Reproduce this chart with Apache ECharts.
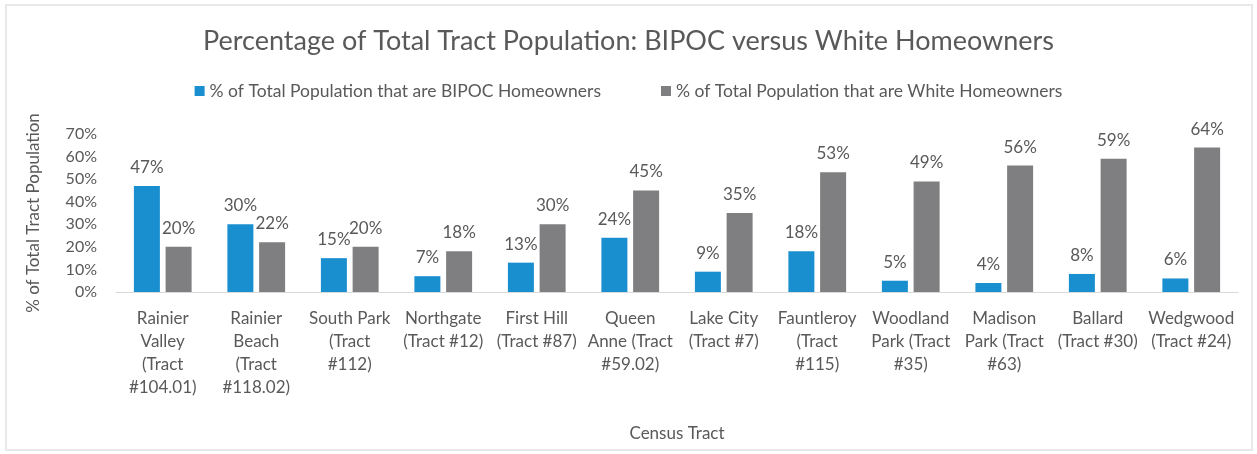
<!DOCTYPE html>
<html>
<head>
<meta charset="utf-8">
<script src="https://cdn.jsdelivr.net/npm/echarts@6/dist/echarts.min.js"></script>
<style>html,body{margin:0;padding:0;background:#fff;}#c{width:1257px;height:454px;}</style>
</head>
<body>
<div id="c"></div>
<script>
const categories = [
  "Rainier\nValley\n(Tract\n#104.01)",
  "Rainier\nBeach\n(Tract\n#118.02)",
  "South Park\n(Tract\n#112)",
  "Northgate\n(Tract #12)",
  "First Hill\n(Tract #87)",
  "Queen\nAnne (Tract\n#59.02)",
  "Lake City\n(Tract #7)",
  "Fauntleroy\n(Tract\n#115)",
  "Woodland\nPark (Tract\n#35)",
  "Madison\nPark (Tract\n#63)",
  "Ballard\n(Tract #30)",
  "Wedgwood\n(Tract #24)"
];
const bipoc = [47, 30, 15, 7, 13, 24, 9, 18, 5, 4, 8, 6];
const white = [20, 22, 20, 18, 30, 45, 35, 53, 49, 56, 59, 64];
const seriesNames = ["% of Total Population that are BIPOC Homeowners", "% of Total Population that are White Homeowners"];
const yTicks = [0, 10, 20, 30, 40, 50, 60, 70];

const FONT = "Lato";
const TXT = "#595959";
const chart = echarts.init(document.getElementById('c'), null, {renderer: 'canvas'});
const labelCfg = {show: true, position: 'top', distance: 10, color: TXT, fontFamily: FONT, fontSize: 17, formatter: p => p.value + '%'};
chart.setOption({
  animation: false,
  backgroundColor: '#fff',
  title: {
    text: "Percentage of Total Tract Population: BIPOC versus White Homeowners",
    left: 'center', top: 23,
    textStyle: {color: TXT, fontFamily: FONT, fontSize: 27, fontWeight: 'normal'}
  },
  legend: {
    top: 77, left: 'center', itemWidth: 10, itemHeight: 10, itemGap: 60,
    icon: 'rect',
    textStyle: {color: TXT, fontFamily: FONT, fontSize: 17.5},
    data: seriesNames
  },
  graphic: [{
    type: 'rect', shape: {x: 6, y: 5, width: 1246, height: 445},
    style: {fill: 'none', stroke: '#e8e8e8', lineWidth: 2}, silent: true, z: -1
  }],
  grid: {left: 116, right: 19, top: 134, bottom: 162, containLabel: false},
  xAxis: {
    type: 'category', data: categories,
    name: 'Census Tract', nameLocation: 'middle', nameGap: 133,
    nameTextStyle: {color: TXT, fontFamily: FONT, fontSize: 17},
    axisLine: {lineStyle: {color: '#d9d9d9', width: 1}},
    axisTick: {show: false},
    axisLabel: {interval: 0, color: TXT, fontFamily: FONT, fontSize: 17, lineHeight: 23, margin: 15, align: 'center'}
  },
  yAxis: {
    type: 'value', min: 0, max: 70, interval: 10,
    name: '% of Total Tract Population', nameLocation: 'middle', nameGap: 74,
    nameTextStyle: {color: TXT, fontFamily: FONT, fontSize: 17},
    axisLine: {show: false}, axisTick: {show: false}, splitLine: {show: false},
    axisLabel: {color: TXT, fontFamily: FONT, fontSize: 16, margin: 19, formatter: v => yTicks.includes(v) ? v + '%' : ''}
  },
  series: [
    {name: seriesNames[0], type: 'bar', data: bipoc, barWidth: 26, barGap: '22%',
     itemStyle: {color: '#1a8fd0'}, label: labelCfg},
    {name: seriesNames[1], type: 'bar', data: white, barWidth: 26, barGap: '22%',
     itemStyle: {color: '#7f7f81'}, label: labelCfg}
  ]
});
</script>
</body>
</html>
